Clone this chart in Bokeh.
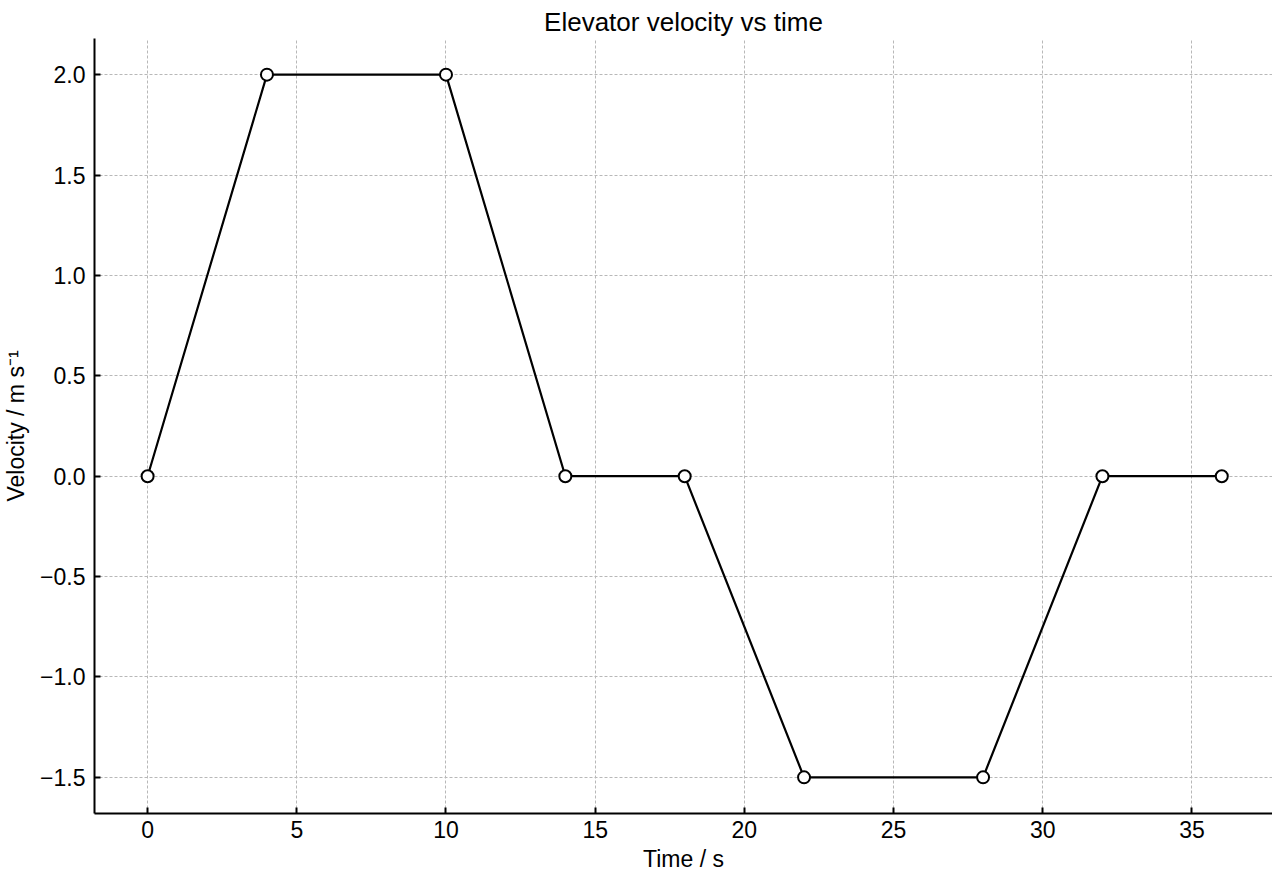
from bokeh.plotting import figure
from bokeh.models import FixedTicker, CustomJSTickFormatter, Range1d
from bokeh.embed import file_html
from bokeh.resources import INLINE

# elevator velocity profile
time_s = [0, 4, 10, 14, 18, 22, 28, 32, 36]
velocity = [0, 2, 2, 0, 0, -1.5, -1.5, 0, 0]
x_ticks = [0, 5, 10, 15, 20, 25, 30, 35]
y_ticks = [-1.5, -1.0, -0.5, 0.0, 0.5, 1.0, 1.5, 2.0]

FONT = "Liberation Sans"

p = figure(width=1272, height=880, output_backend="svg", toolbar_location=None,
           x_range=Range1d(-1.78, 37.7), y_range=Range1d(-1.68, 2.18),
           title="Elevator velocity vs time",
           x_axis_label="Time / s", y_axis_label="Velocity / m s\u207b\u00b9",
           min_border_left=94, min_border_right=0, min_border_top=38,
           min_border_bottom=67)

p.title.align = "center"
p.title.text_font = FONT
p.title.text_font_size = "26px"
p.title.text_font_style = "normal"
p.title.text_color = "black"
p.title.offset = 0
p.title.standoff = 4

p.outline_line_color = None

for ax in (p.xaxis[0], p.yaxis[0]):
    ax.axis_line_width = 2
    ax.axis_line_color = "black"
    ax.major_tick_in = 6
    ax.major_tick_out = 0
    ax.major_tick_line_width = 2
    ax.minor_tick_line_color = None
    ax.major_label_text_font = FONT
    ax.major_label_text_font_size = "23px"
    ax.major_label_text_color = "black"
    ax.axis_label_text_font = FONT
    ax.axis_label_text_font_size = "23px"
    ax.axis_label_text_font_style = "normal"
    ax.axis_label_text_color = "black"

p.xaxis.ticker = FixedTicker(ticks=x_ticks)
p.yaxis.ticker = FixedTicker(ticks=y_ticks)
p.yaxis.formatter = CustomJSTickFormatter(
    code='return (tick < 0 ? "\\u2212" : "") + Math.abs(tick).toFixed(1);')
p.xaxis.major_label_standoff = 7
p.yaxis.major_label_standoff = 9
p.xaxis.axis_label_standoff = 5
p.yaxis.axis_label_standoff = 8

p.grid.grid_line_color = "#b8b8b8"
p.grid.grid_line_dash = "3 2"
p.grid.grid_line_width = 1

p.line(time_s, velocity, line_color="black", line_width=2.2)
p.scatter(time_s, velocity, size=12, fill_color="white", line_color="black",
          line_width=2)

open("out.html", "w").write(file_html(p, INLINE))
